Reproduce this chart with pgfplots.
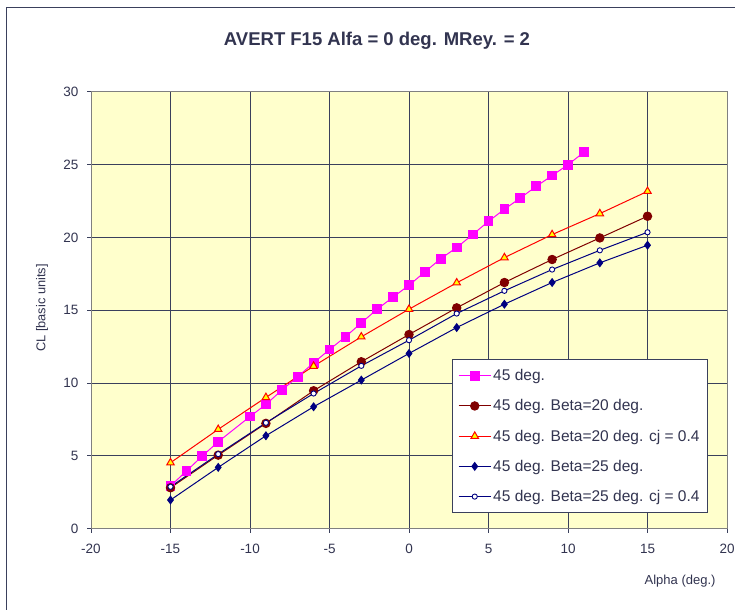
\documentclass[border=0pt]{standalone}
\usepackage{pgfplots}
\pgfplotsset{compat=1.18}
\usepackage{fontspec}
\setmainfont{Liberation Sans}

\definecolor{plotbg}{RGB}{255,255,204}
\definecolor{gridc}{RGB}{58,64,92}
\definecolor{framec}{RGB}{128,128,128}
\definecolor{txt}{RGB}{50,52,80}
\definecolor{magser}{RGB}{255,0,255}
\definecolor{maroonser}{RGB}{128,0,0}
\definecolor{navyser}{RGB}{0,0,128}
\definecolor{triyel}{RGB}{255,255,0}

\begin{document}
\begin{tikzpicture}[x=1bp,y=1bp]
\useasboundingbox (0,0) rectangle (735,610);
\fill[white] (0,0) rectangle (735,610);
% chart frame
\draw[gridc,line width=1bp] (6,0) -- (6,602) -- (735,602);

\begin{axis}[
  at={(91bp,81.3bp)}, anchor=south west,
  scale only axis, width=636bp, height=437bp,
  xmin=-20, xmax=20, ymin=0, ymax=30,
  xtick={-20,-15,...,20}, ytick={0,5,...,30},
  axis background/.style={fill=plotbg},
  axis line style={framec,line width=1bp},
  grid=major,
  major grid style={gridc,line width=0.9bp},
  tick align=outside, major tick length=4bp,
  tick style={gridc,line width=0.9bp},
  xtick pos=bottom, ytick pos=left,
  /pgf/number format/assume math mode=true,
  tick label style={font=\fontsize{13.5bp}{16bp}\selectfont, text=txt},
  xticklabel style={yshift=-8bp},
  yticklabel style={xshift=-5bp},
  clip=false,
  legend cell align=left,
  legend style={at={(0.97,0.035)}, anchor=south east,
    font=\fontsize{15.5bp}{18bp}\selectfont, text=txt,
    draw=gridc, line width=0.9bp, fill=white,
    inner xsep=6bp, inner ysep=8bp, row sep=13.5bp},
  legend image code/.code={%
    \draw[mark repeat=2,mark phase=2,#1]
      plot coordinates {(0bp,0bp) (16bp,0bp) (32bp,0bp)};},
]
\addplot[magser, line width=1bp, mark=square*, mark size=4.4bp,
  mark options={fill=magser, draw=magser}] coordinates {
  (-15,2.93) (-14,3.96) (-13,4.99) (-12,5.97) (-10,7.70) (-9,8.53)
  (-8,9.51) (-7,10.43) (-6,11.39) (-5,12.30) (-4,13.17) (-3,14.13)
  (-2,15.07) (-1,15.90) (0,16.71) (1,17.63) (2,18.54) (3,19.30)
  (4,20.19) (5,21.10) (6,21.93) (7,22.70) (8,23.50) (9,24.24)
  (10,24.99) (11,25.84)};
\addlegendentry{45 deg.}

\addplot[maroonser, line width=1bp, mark=*, mark size=4.2bp,
  mark options={fill=maroonser, draw=maroonser}] coordinates {
  (-15,2.81) (-12,5.05) (-9,7.23) (-6,9.47) (-3,11.46) (0,13.33)
  (3,15.16) (6,16.90) (9,18.48) (12,19.96) (15,21.45)};
\addlegendentry{45 deg. Beta=20 deg.}

\addplot[red, line width=1bp, mark=triangle*, mark size=4.3bp,
  mark options={fill=triyel, draw=red, line width=1bp}] coordinates {
  (-15,4.53) (-12,6.82) (-9,9.01) (-6,11.16) (-3,13.17) (0,15.07)
  (3,16.88) (6,18.61) (9,20.19) (12,21.63) (15,23.16)};
\addlegendentry{45 deg. Beta=20 deg. cj = 0.4}

\addplot[navyser, line width=1bp, mark=diamond*, mark size=3.8bp,
  mark options={fill=navyser, draw=navyser}] coordinates {
  (-15,1.97) (-12,4.21) (-9,6.38) (-6,8.37) (-3,10.20) (0,12.03)
  (3,13.81) (6,15.41) (9,16.90) (12,18.25) (15,19.46)};
\addlegendentry{45 deg. Beta=25 deg.}

\addplot[navyser, line width=1bp, mark=*, mark size=2.6bp,
  mark options={fill=white, draw=navyser, line width=0.9bp}] coordinates {
  (-15,2.88) (-12,5.12) (-9,7.27) (-6,9.28) (-3,11.18) (0,12.94)
  (3,14.77) (6,16.33) (9,17.79) (12,19.11) (15,20.35)};
\addlegendentry{45 deg. Beta=25 deg. cj = 0.4}
\end{axis}

% title and axis titles
\node[text=txt, font=\bfseries\fontsize{18.5bp}{22bp}\selectfont]
  at (377,569) {AVERT F15 Alfa = 0 deg. MRey. = 2};
\node[text=txt, rotate=90, font=\fontsize{12.8bp}{15bp}\selectfont]
  at (42,302) {CL [basic units]};
\node[text=txt, anchor=east, font=\fontsize{13bp}{15bp}\selectfont]
  at (719,29) {Alpha (deg.)};
\end{tikzpicture}
\end{document}
